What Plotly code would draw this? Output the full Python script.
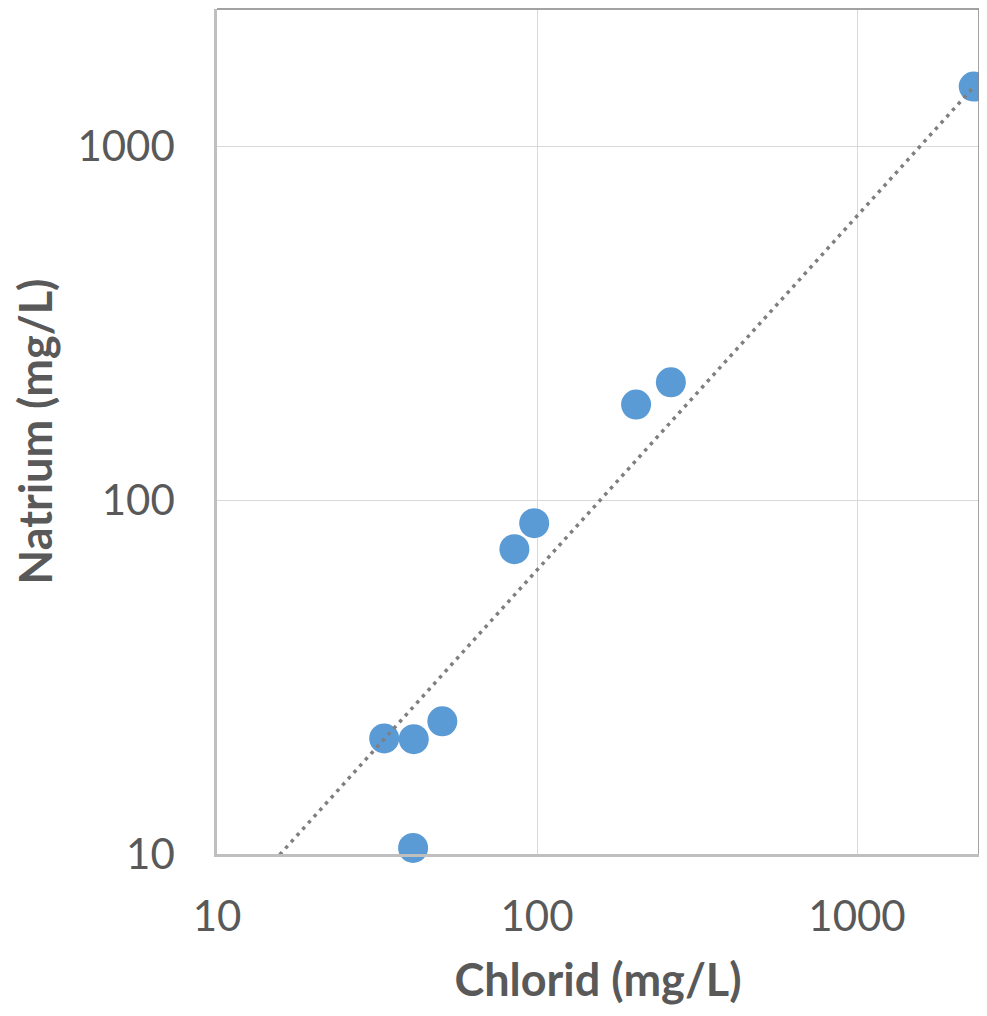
import numpy as np
import plotly.graph_objects as go

# Data (mg/L)
chlorid = [2316, 262, 204, 98, 85, 50.6, 33.3, 41.2, 41.0]
natrium = [1472, 215, 186, 86, 72.6, 23.7, 21.2, 21.1, 10.4]

# Power trendline y = a * x^b (coefficients)
trend_a = 0.634
trend_b = 1.0
trend_x_span = [15.7, 2316]

tick_vals = [10, 100, 1000]
tick_text = ["10", "100", "1000"]

x_title = "Chlorid (mg/L)"
y_title = "Natrium (mg/L)"

text_color = "#595959"
font_family = "Lato, 'Open Sans', sans-serif"

# page body has an 8px margin
W, H = 971, 1000
L, R, T, B = 209, 0, 1, 154
x_decade_px = 320.0
y_decade_px = 354.0
x_hi = 1 + (W - L - R) / x_decade_px
y_hi = 1 + (H - T - B) / y_decade_px

tx = np.array(trend_x_span)
ty = trend_a * tx ** trend_b

fig = go.Figure()
fig.add_trace(go.Scatter(
    x=chlorid, y=natrium, mode="markers",
    marker=dict(size=30, color="#5B9BD5", line=dict(width=0)),
    cliponaxis=False, showlegend=False, hoverinfo="x+y",
))
fig.add_trace(go.Scatter(
    x=tx, y=ty, mode="lines",
    line=dict(color="#7F7F7F", width=3.5, dash="3.5px,5px"),
    cliponaxis=False, showlegend=False, hoverinfo="skip",
))

axis_common = dict(
    type="log",
    tickvals=tick_vals, ticktext=tick_text,
    showgrid=True, gridcolor="#D9D9D9", gridwidth=1.3,
    showline=True, linecolor="#BFBFBF", linewidth=2.5,
    ticks="", zeroline=False,
    tickfont=dict(family=font_family, size=42, color=text_color),
)

fig.update_layout(
    width=W, height=H,
    margin=dict(l=L, r=R, t=T, b=B, autoexpand=False),
    paper_bgcolor="white", plot_bgcolor="white",
    xaxis=dict(**axis_common, range=[1, x_hi],
               title=dict(text=x_title, standoff=26,
                          font=dict(family=font_family, size=45, color=text_color, weight="bold"))),
    yaxis=dict(**axis_common, range=[1, y_hi],
               title=dict(text=y_title, standoff=34,
                          font=dict(family=font_family, size=45, color=text_color, weight="bold"))),
    shapes=[
        dict(type="line", xref="paper", yref="paper", x0=0, x1=1, y0=1, y1=1,
             line=dict(color="#858585", width=1.5)),
        dict(type="line", xref="paper", yref="paper", x0=1, x1=1, y0=0, y1=1,
             line=dict(color="#858585", width=1.5)),
    ],
)
fig.update_xaxes(ticklabelstandoff=24)
fig.update_yaxes(ticklabelstandoff=31)

fig.write_html("out.html")
